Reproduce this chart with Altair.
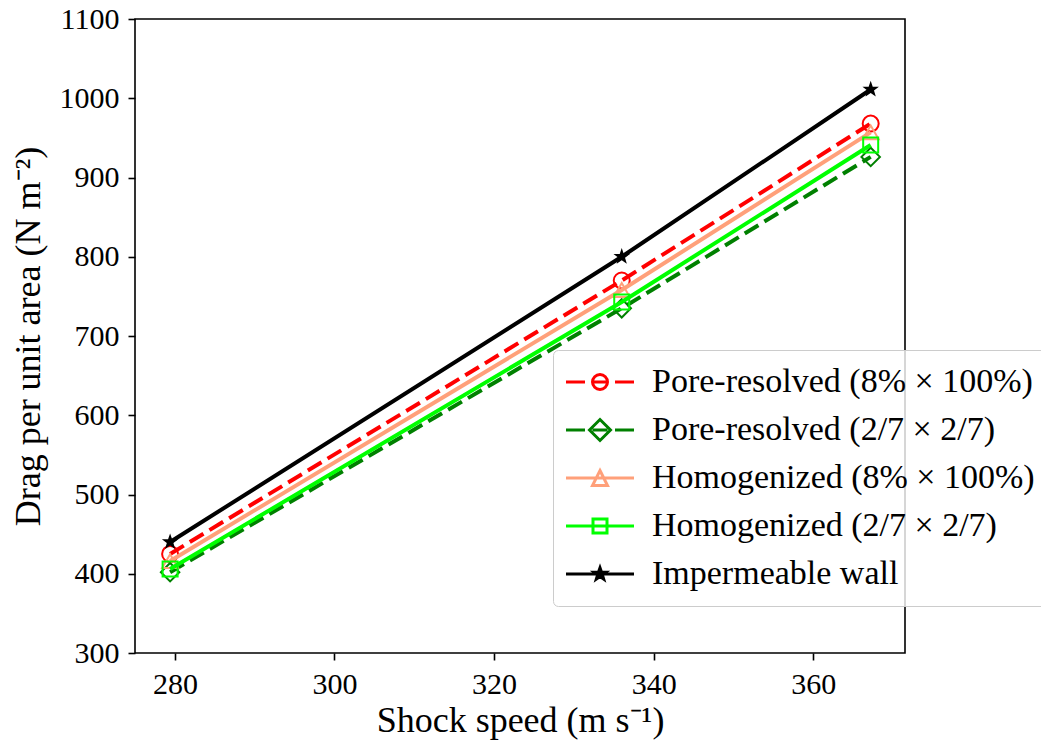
import altair as alt
import pandas as pd

# ---- data ----
series = [
    "Pore-resolved (8% × 100%)",
    "Pore-resolved (2/7 × 2/7)",
    "Homogenized (8% × 100%)",
    "Homogenized (2/7 × 2/7)",
    "Impermeable wall",
]
speed = [279.4, 336.0, 367.2]
pore_8 = [425, 770, 968]
pore_27 = [402, 735, 926]
homog_8 = [416, 758, 957]
homog_27 = [406, 743, 941]
wall = [440, 800, 1011]
x_ticks = [280, 300, 320, 340, 360]
y_ticks = [300, 400, 500, 600, 700, 800, 900, 1000, 1100]

# ---- styles ----
colors = ["#ff0000", "#008000", "#ffa07a", "#00ff00", "#000000"]
dashed = [True, True, False, False, False]
star = ("M0,-1L0.235,-0.324L0.951,-0.309L0.380,0.124L0.588,0.809L0,0.4"
        "L-0.588,0.809L-0.380,0.124L-0.951,-0.309L-0.235,-0.324Z")
marker_shapes = ["circle", "diamond", "triangle-up", "square", star]
marker_sizes = [256, 340, 256, 225, 300]

star_leg = ("M0,-0.62L0.146,-0.201L0.590,-0.192L0.236,0.077L0.365,0.502L0,0.248"
            "L-0.365,0.502L-0.236,0.077L-0.590,-0.192L-0.146,-0.201Z")
dash_line = "M-3.4,0H-1.5M-0.75,0H0.75M1.5,0H3.4"
solid_line = "M-3.4,0H3.4"
legend_paths = [
    dash_line + "M0.75,0A0.75,0.75,0,1,1,-0.75,0A0.75,0.75,0,1,1,0.75,0",
    dash_line + "M-1.05,0L0,-1.05L1.05,0L0,1.05Z",
    solid_line + "M0,-0.75L0.75,0.75L-0.75,0.75Z",
    solid_line + "M-0.7,-0.7H0.7V0.7H-0.7Z",
    solid_line + star_leg,
]

values = [pore_8, pore_27, homog_8, homog_27, wall]
rows = []
for s, vals in zip(series, values):
    for sp, v in zip(speed, vals):
        rows.append({"series": s, "speed": sp, "drag": v})
df = pd.DataFrame(rows)

FONT = "Liberation Serif"

X = alt.X(
    "speed:Q",
    scale=alt.Scale(domain=[275, 371.5], nice=False, zero=False),
    axis=alt.Axis(values=x_ticks, title="Shock speed (m s⁻¹)", format="d",
                  titlePadding=4),
)
Y = alt.Y(
    "drag:Q",
    scale=alt.Scale(domain=[300, 1100], nice=False, zero=False),
    axis=alt.Axis(values=y_ticks, title="Drag per unit area (N m⁻²)", format="d",
                  titlePadding=12),
)

layers = []
for i, s in enumerate(series):
    base = alt.Chart(df).transform_filter(alt.FieldEqualPredicate(field="series", equal=s))
    if dashed[i]:
        line = base.mark_line(color=colors[i], strokeWidth=4, strokeDash=[16, 7])
    else:
        line = base.mark_line(color=colors[i], strokeWidth=4)
    layers.append(line.encode(x=X, y=Y))
    pts = base.mark_point(
        shape=marker_shapes[i],
        size=marker_sizes[i],
        color=colors[i],
        filled=(i == 4),
        strokeWidth=2,
        opacity=1,
    ).encode(x=X, y=Y)
    layers.append(pts)

leg_props = dict(
    orient="none",
    legendX=418,
    legendY=331,
    symbolSize=400,
    symbolStrokeWidth=3,
    symbolOpacity=1,
    labelFont=FONT,
    labelFontSize=34,
    labelColor="black",
    labelLimit=1000,
    padding=15,
    rowPadding=14,
    symbolOffset=15,
    labelOffset=35,
    fillColor="rgba(255,255,255,0.8)",
    strokeColor="#cccccc",
    cornerRadius=5,
)

legend_layer = (
    alt.Chart(df)
    .transform_filter("false")
    .mark_point(filled=False)
    .encode(
        x=X,
        y=Y,
        color=alt.Color(
            "series:N",
            scale=alt.Scale(domain=series, range=colors),
            legend=alt.Legend(**leg_props),
            title=None,
        ),
        shape=alt.Shape(
            "series:N",
            scale=alt.Scale(domain=series, range=legend_paths),
            legend=alt.Legend(**leg_props),
            title=None,
        ),
    )
)
layers.append(legend_layer)

chart = (
    alt.layer(*layers)
    .properties(
        width=770,
        height=634,
        autosize=alt.AutoSizeParams(type="none"),
        padding={"left": 135, "top": 19, "right": 136, "bottom": 89},
    )
    .configure(font=FONT, background="white")
    .configure_view(stroke="black", strokeWidth=1.6)
    .configure_axis(
        grid=False,
        domain=False,
        ticks=True,
        tickColor="black",
        tickSize=7,
        tickWidth=1.6,
        labelFont=FONT,
        labelFontSize=30,
        labelColor="black",
        labelPadding=9,
        titleFont=FONT,
        titleFontSize=36,
        titleFontWeight="normal",
        titleColor="black",
    )
)

chart.save("out.html", embed_options={"renderer": "svg", "actions": False})
